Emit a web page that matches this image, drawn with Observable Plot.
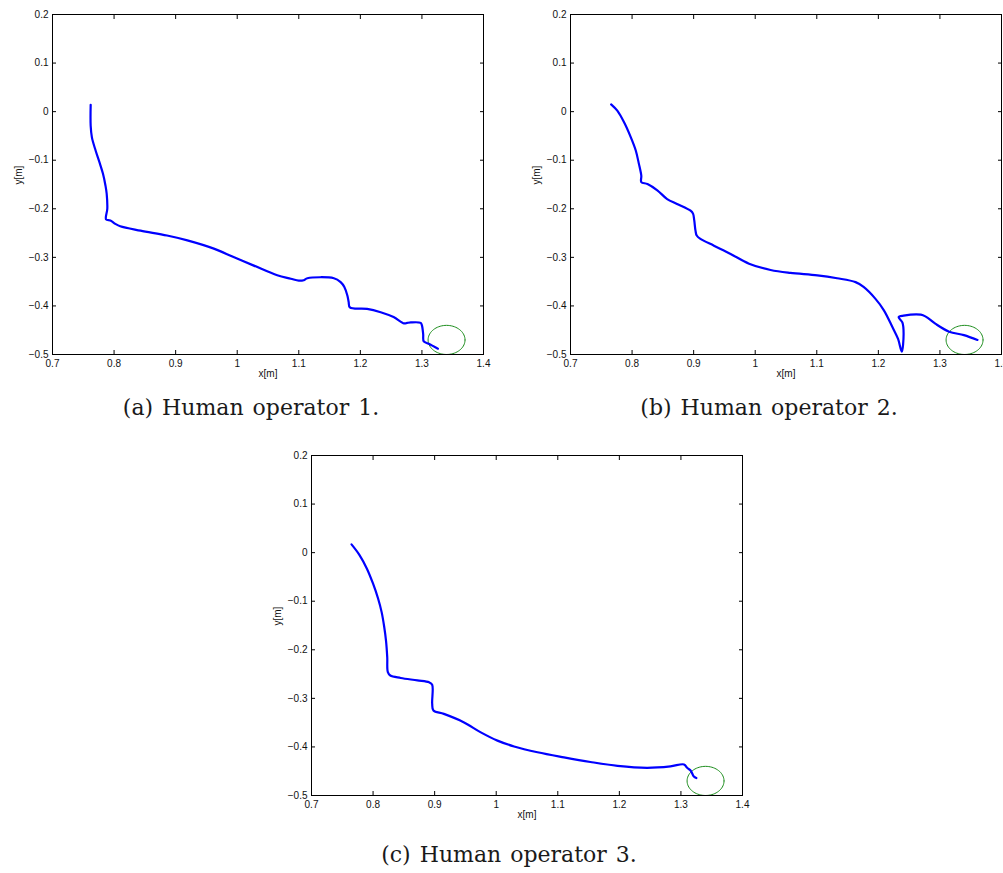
<!DOCTYPE html>
<html><head><meta charset="utf-8">
<script src="https://cdn.jsdelivr.net/npm/d3@7"></script>
<script src="https://cdn.jsdelivr.net/npm/@observablehq/plot@0.6"></script>
<style>
html,body{margin:0;padding:0;background:#fff;}
body{width:1003px;height:873px;overflow:hidden;position:relative;}
.panel{position:absolute;width:513px;height:394px;}
.panel svg{max-width:none !important;}
.cap{position:absolute;font-family:"DejaVu Serif",serif;font-size:22px;color:#1a1a1a;text-align:center;white-space:nowrap;height:26px;line-height:26px;word-spacing:2px;}
</style></head><body>
<div id="pa" class="panel" style="left:0;top:0"></div>
<div id="pb" class="panel" style="left:518px;top:0"></div>
<div id="pc" class="panel" style="left:259px;top:441px"></div>
<div class="cap" id="ca" style="left:101px;top:395px;width:300px"></div>
<div class="cap" id="cb" style="left:619px;top:395px;width:300px"></div>
<div class="cap" id="cc" style="left:359px;top:842px;width:300px"></div>
<script>
// ---- data ----
const xTicks = [0.7, 0.8, 0.9, 1.0, 1.1, 1.2, 1.3, 1.4];
const yTicks = [-0.5, -0.4, -0.3, -0.2, -0.1, 0, 0.1, 0.2];
const captions = ["(a) Human operator 1.", "(b) Human operator 2.", "(c) Human operator 3."];
const xLabel = "x[m]";
const yLabel = "y[m]";

const op1X = [0.762, 0.762, 0.764, 0.770, 0.777, 0.782, 0.786, 0.788, 0.789, 0.787, 0.794, 0.802, 0.810, 0.843, 0.886, 0.919, 0.962, 0.995, 1.027, 1.065, 1.087, 1.100, 1.108, 1.114, 1.157, 1.168, 1.174, 1.179, 1.181, 1.183, 1.211, 1.233, 1.254, 1.271, 1.276, 1.282, 1.298, 1.300, 1.302, 1.303, 1.311, 1.326];
const op1Y = [0.014, -0.029, -0.053, -0.080, -0.107, -0.128, -0.152, -0.169, -0.200, -0.222, -0.224, -0.231, -0.236, -0.245, -0.255, -0.265, -0.282, -0.300, -0.317, -0.337, -0.344, -0.348, -0.347, -0.343, -0.343, -0.351, -0.361, -0.379, -0.392, -0.403, -0.406, -0.413, -0.423, -0.436, -0.435, -0.434, -0.435, -0.440, -0.458, -0.473, -0.478, -0.488];

const op2X = [0.766, 0.776, 0.787, 0.798, 0.806, 0.811, 0.815, 0.815, 0.825, 0.841, 0.857, 0.873, 0.895, 0.899, 0.901, 0.903, 0.905, 0.911, 0.933, 0.960, 0.990, 1.025, 1.057, 1.101, 1.133, 1.163, 1.176, 1.195, 1.209, 1.223, 1.232, 1.238, 1.241, 1.239, 1.233, 1.241, 1.269, 1.277, 1.293, 1.315, 1.339, 1.361];
const op2Y = [0.015, 0.002, -0.022, -0.053, -0.080, -0.107, -0.132, -0.145, -0.149, -0.162, -0.180, -0.190, -0.204, -0.210, -0.224, -0.245, -0.255, -0.262, -0.276, -0.293, -0.313, -0.326, -0.332, -0.337, -0.343, -0.351, -0.361, -0.385, -0.409, -0.444, -0.468, -0.494, -0.457, -0.434, -0.423, -0.420, -0.418, -0.422, -0.437, -0.453, -0.460, -0.470];

const op3X = [0.765, 0.778, 0.790, 0.800, 0.808, 0.814, 0.818, 0.821, 0.823, 0.824, 0.828, 0.845, 0.872, 0.891, 0.896, 0.896, 0.898, 0.915, 0.947, 0.975, 1.002, 1.029, 1.067, 1.110, 1.153, 1.197, 1.245, 1.283, 1.305, 1.310, 1.316, 1.321, 1.325];
const op3Y = [0.017, -0.005, -0.033, -0.064, -0.094, -0.123, -0.152, -0.181, -0.215, -0.246, -0.253, -0.258, -0.263, -0.267, -0.272, -0.311, -0.325, -0.332, -0.349, -0.370, -0.387, -0.399, -0.411, -0.4215, -0.431, -0.439, -0.443, -0.440, -0.436, -0.443, -0.449, -0.461, -0.464];

const targetX = 1.34, targetY = -0.47, targetR = 0.03;

// ---- drawing ----
const W = 431, H = 340, ML = 52, MT = 14;
const circle = d3.range(0, 361, 5).map(a => ({
  x: targetX + targetR * Math.cos(a * Math.PI / 180),
  y: targetY + targetR * Math.sin(a * Math.PI / 180)
}));
const fmt = d => {
  const s = String(Math.round(Math.abs(d) * 10) / 10);
  return (d < -1e-9 ? "\u2212" : "") + s;
};

function panel(xs, ys) {
  const pts = xs.map((x, i) => ({x, y: ys[i]}));
  return Plot.plot({
    width: ML + W + 30, height: MT + H + 40,
    marginLeft: ML, marginTop: MT, marginRight: 30, marginBottom: 40,
    x: {domain: [0.7, 1.4], label: null},
    y: {domain: [-0.5, 0.2], label: null},
    style: {fontFamily: "'Liberation Sans', Arial, sans-serif", fontSize: "10px", color: "#111", background: "transparent"},
    marks: [
      Plot.line(circle, {x: "x", y: "y", stroke: "#1a8c1a", strokeWidth: 1}),
      Plot.line(pts, {x: "x", y: "y", curve: "catmull-rom", stroke: "#0000ff", strokeWidth: 2.2, strokeLinejoin: "round", strokeLinecap: "round"}),
      Plot.axisX(xTicks, {anchor: "bottom", tickSize: -4, tickPadding: 9, tickFormat: fmt, label: null, stroke: "#000"}),
      Plot.axisX(xTicks, {anchor: "top", tickSize: -4, tickFormat: () => "", label: null, stroke: "#000"}),
      Plot.axisY(yTicks, {anchor: "left", tickSize: -4, tickPadding: 8, tickFormat: fmt, label: null, stroke: "#000"}),
      Plot.axisY(yTicks, {anchor: "right", tickSize: -4, tickFormat: () => "", label: null, stroke: "#000"}),
      Plot.frame({stroke: "#000", strokeWidth: 1}),
      Plot.text([xLabel], {text: d => d, frameAnchor: "bottom", dy: 22, fill: "#111"}),
      Plot.text([yLabel], {text: d => d, frameAnchor: "left", dx: -34, rotate: -90, fill: "#111"})
    ]
  });
}

document.getElementById("pa").append(panel(op1X, op1Y));
document.getElementById("pb").append(panel(op2X, op2Y));
document.getElementById("pc").append(panel(op3X, op3Y));
document.getElementById("ca").textContent = captions[0];
document.getElementById("cb").textContent = captions[1];
document.getElementById("cc").textContent = captions[2];
</script>
</body></html>
